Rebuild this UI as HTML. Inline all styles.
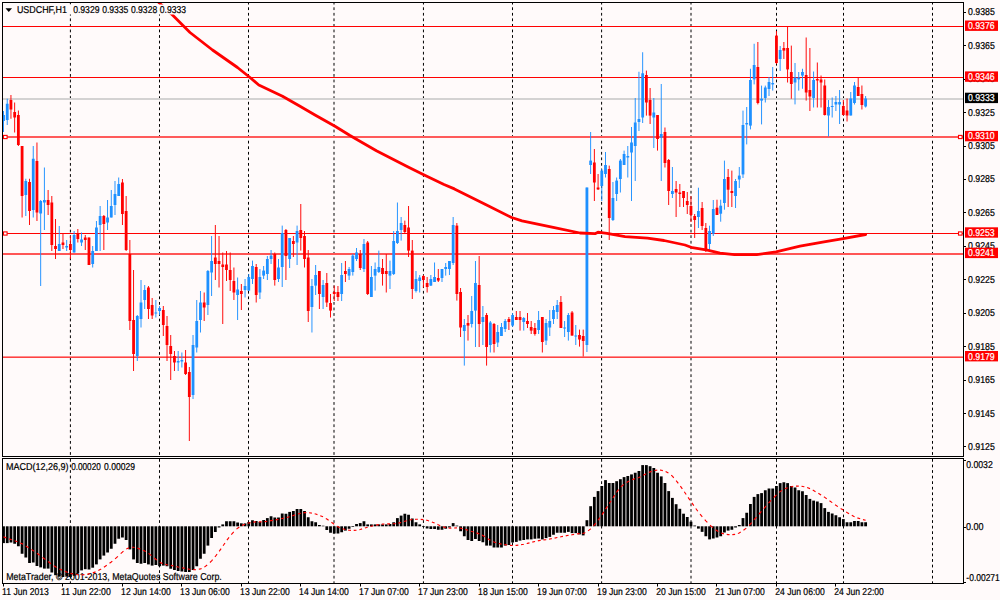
<!DOCTYPE html><html><head><meta charset="utf-8"><style>html,body{margin:0;padding:0;background:#FFFAFA;width:1000px;height:600px;overflow:hidden;}svg{display:block;} text{font-family:"Liberation Sans",sans-serif;font-size:10.00px;fill:#000;stroke:#000;stroke-width:0.22px;text-rendering:geometricPrecision;}</style></head><body><svg width="1000" height="600" viewBox="0 0 1000 600"><rect x="0" y="0" width="1000" height="600" fill="#FFFAFA"/><defs><clipPath id="cm"><rect x="3" y="3" width="960" height="453"/></clipPath><clipPath id="cd"><rect x="3" y="459" width="960" height="124"/></clipPath></defs><g stroke="#000" stroke-width="1" stroke-dasharray="2.78 2.78"><line x1="70.40" y1="3" x2="70.40" y2="456" stroke-dashoffset="1.26"/><line x1="70.40" y1="459" x2="70.40" y2="583" /><line x1="159.50" y1="3" x2="159.50" y2="456" stroke-dashoffset="1.26"/><line x1="159.50" y1="459" x2="159.50" y2="583" /><line x1="248.50" y1="3" x2="248.50" y2="456" stroke-dashoffset="1.26"/><line x1="248.50" y1="459" x2="248.50" y2="583" /><line x1="334.00" y1="3" x2="334.00" y2="456" stroke-dashoffset="1.26"/><line x1="334.00" y1="459" x2="334.00" y2="583" /><line x1="423.45" y1="3" x2="423.45" y2="456" stroke-dashoffset="1.26"/><line x1="423.45" y1="459" x2="423.45" y2="583" /><line x1="512.50" y1="3" x2="512.50" y2="456" stroke-dashoffset="1.26"/><line x1="512.50" y1="459" x2="512.50" y2="583" /><line x1="601.60" y1="3" x2="601.60" y2="456" stroke-dashoffset="1.26"/><line x1="601.60" y1="459" x2="601.60" y2="583" /><line x1="691.00" y1="3" x2="691.00" y2="456" stroke-dashoffset="1.26"/><line x1="691.00" y1="459" x2="691.00" y2="583" /><line x1="776.50" y1="3" x2="776.50" y2="456" stroke-dashoffset="1.26"/><line x1="776.50" y1="459" x2="776.50" y2="583" /><line x1="843.50" y1="3" x2="843.50" y2="456" stroke-dashoffset="1.26"/><line x1="843.50" y1="459" x2="843.50" y2="583" /><line x1="932.50" y1="3" x2="932.50" y2="456" stroke-dashoffset="1.26"/><line x1="932.50" y1="459" x2="932.50" y2="583" /></g><g><rect x="3" y="26" width="960" height="1" fill="#FF0000"/><rect x="3" y="77" width="960" height="1" fill="#FF0000"/><rect x="3" y="233" width="960" height="1" fill="#FF0000"/><rect x="3" y="136" width="960" height="2" fill="#FF5A5A"/><rect x="3" y="253" width="960" height="2" fill="#FF5555"/><rect x="3" y="356" width="960" height="1" fill="#FF8C8C"/><rect x="3" y="357" width="960" height="1" fill="#FF4141"/><rect x="3" y="98" width="960" height="2" fill="#D4D2D2"/></g><g clip-path="url(#cm)"><rect x="3.03" y="111.00" width="0.95" height="21.00" fill="#1E90FF"/><rect x="2.11" y="115.00" width="2.8" height="6.00" fill="#1E90FF"/><rect x="6.75" y="98.75" width="0.95" height="26.25" fill="#1E90FF"/><rect x="5.83" y="103.75" width="2.8" height="16.25" fill="#1E90FF"/><rect x="10.47" y="95.00" width="0.95" height="23.75" fill="#FF0000"/><rect x="9.54" y="100.00" width="2.8" height="9.50" fill="#FF0000"/><rect x="14.18" y="102.50" width="0.95" height="30.00" fill="#FF0000"/><rect x="13.26" y="112.00" width="2.8" height="5.50" fill="#FF0000"/><rect x="17.90" y="110.50" width="0.95" height="35.50" fill="#FF0000"/><rect x="16.97" y="115.00" width="2.8" height="30.00" fill="#FF0000"/><rect x="21.62" y="146.00" width="0.95" height="71.50" fill="#FF0000"/><rect x="20.69" y="146.00" width="2.8" height="50.00" fill="#FF0000"/><rect x="25.33" y="178.75" width="0.95" height="37.25" fill="#1E90FF"/><rect x="24.41" y="181.00" width="2.8" height="14.00" fill="#1E90FF"/><rect x="29.05" y="178.75" width="0.95" height="46.25" fill="#FF0000"/><rect x="28.12" y="182.00" width="2.8" height="29.00" fill="#FF0000"/><rect x="32.76" y="146.00" width="0.95" height="71.50" fill="#1E90FF"/><rect x="31.84" y="158.75" width="2.8" height="51.25" fill="#1E90FF"/><rect x="36.48" y="142.50" width="0.95" height="78.50" fill="#FF0000"/><rect x="35.55" y="161.00" width="2.8" height="51.50" fill="#FF0000"/><rect x="40.20" y="200.00" width="0.95" height="86.00" fill="#1E90FF"/><rect x="39.27" y="201.00" width="2.8" height="12.50" fill="#1E90FF"/><rect x="43.91" y="167.50" width="0.95" height="62.50" fill="#1E90FF"/><rect x="42.99" y="200.00" width="2.8" height="2.50" fill="#1E90FF"/><rect x="47.63" y="190.00" width="0.95" height="25.00" fill="#FF0000"/><rect x="46.70" y="200.00" width="2.8" height="5.00" fill="#FF0000"/><rect x="51.34" y="196.00" width="0.95" height="55.00" fill="#FF0000"/><rect x="50.42" y="202.50" width="2.8" height="42.50" fill="#FF0000"/><rect x="55.06" y="219.00" width="0.95" height="40.00" fill="#FF0000"/><rect x="54.13" y="246.00" width="2.8" height="3.00" fill="#FF0000"/><rect x="58.77" y="226.00" width="0.95" height="25.00" fill="#1E90FF"/><rect x="57.85" y="244.00" width="2.8" height="7.00" fill="#1E90FF"/><rect x="62.49" y="234.00" width="0.95" height="15.00" fill="#FF0000"/><rect x="61.57" y="242.50" width="2.8" height="2.50" fill="#FF0000"/><rect x="66.21" y="240.00" width="0.95" height="11.00" fill="#1E90FF"/><rect x="65.28" y="246.00" width="2.8" height="1.50" fill="#1E90FF"/><rect x="69.92" y="236.00" width="0.95" height="23.00" fill="#FF0000"/><rect x="69.00" y="244.00" width="2.8" height="6.00" fill="#FF0000"/><rect x="73.64" y="231.00" width="0.95" height="21.50" fill="#1E90FF"/><rect x="72.71" y="235.00" width="2.8" height="17.50" fill="#1E90FF"/><rect x="77.36" y="229.00" width="0.95" height="13.50" fill="#FF0000"/><rect x="76.43" y="234.00" width="2.8" height="5.00" fill="#FF0000"/><rect x="81.07" y="232.50" width="0.95" height="13.50" fill="#1E90FF"/><rect x="80.15" y="239.50" width="2.8" height="3.00" fill="#1E90FF"/><rect x="84.79" y="235.00" width="0.95" height="15.00" fill="#FF0000"/><rect x="83.86" y="237.50" width="2.8" height="2.50" fill="#FF0000"/><rect x="88.50" y="237.50" width="0.95" height="27.50" fill="#FF0000"/><rect x="87.58" y="237.50" width="2.8" height="27.50" fill="#FF0000"/><rect x="92.22" y="246.00" width="0.95" height="21.50" fill="#1E90FF"/><rect x="91.29" y="251.00" width="2.8" height="13.00" fill="#1E90FF"/><rect x="95.94" y="221.00" width="0.95" height="30.00" fill="#1E90FF"/><rect x="95.01" y="227.50" width="2.8" height="23.50" fill="#1E90FF"/><rect x="99.65" y="206.00" width="0.95" height="45.00" fill="#1E90FF"/><rect x="98.73" y="216.00" width="2.8" height="9.00" fill="#1E90FF"/><rect x="103.37" y="215.00" width="0.95" height="35.00" fill="#FF0000"/><rect x="102.44" y="216.00" width="2.8" height="8.00" fill="#FF0000"/><rect x="107.08" y="200.00" width="0.95" height="30.00" fill="#1E90FF"/><rect x="106.16" y="217.50" width="2.8" height="5.00" fill="#1E90FF"/><rect x="110.80" y="190.00" width="0.95" height="27.50" fill="#1E90FF"/><rect x="109.87" y="206.00" width="2.8" height="11.50" fill="#1E90FF"/><rect x="114.52" y="181.00" width="0.95" height="34.00" fill="#1E90FF"/><rect x="113.59" y="194.00" width="2.8" height="11.00" fill="#1E90FF"/><rect x="118.23" y="177.50" width="0.95" height="18.50" fill="#1E90FF"/><rect x="117.31" y="184.00" width="2.8" height="12.00" fill="#1E90FF"/><rect x="121.95" y="179.00" width="0.95" height="46.00" fill="#FF0000"/><rect x="121.02" y="182.50" width="2.8" height="31.50" fill="#FF0000"/><rect x="125.66" y="196.00" width="0.95" height="55.00" fill="#FF0000"/><rect x="124.74" y="211.00" width="2.8" height="39.00" fill="#FF0000"/><rect x="129.38" y="240.00" width="0.95" height="90.00" fill="#FF0000"/><rect x="128.45" y="254.00" width="2.8" height="67.00" fill="#FF0000"/><rect x="133.09" y="270.00" width="0.95" height="101.00" fill="#FF0000"/><rect x="132.17" y="320.00" width="2.8" height="34.00" fill="#FF0000"/><rect x="136.81" y="315.00" width="0.95" height="46.00" fill="#1E90FF"/><rect x="135.89" y="316.00" width="2.8" height="40.00" fill="#1E90FF"/><rect x="140.53" y="280.00" width="0.95" height="47.50" fill="#1E90FF"/><rect x="139.60" y="302.50" width="2.8" height="16.50" fill="#1E90FF"/><rect x="144.24" y="285.00" width="0.95" height="24.00" fill="#1E90FF"/><rect x="143.32" y="290.00" width="2.8" height="10.00" fill="#1E90FF"/><rect x="147.96" y="286.00" width="0.95" height="33.00" fill="#FF0000"/><rect x="147.03" y="287.50" width="2.8" height="21.50" fill="#FF0000"/><rect x="151.68" y="298.00" width="0.95" height="21.00" fill="#FF0000"/><rect x="150.75" y="305.00" width="2.8" height="10.50" fill="#FF0000"/><rect x="155.39" y="300.00" width="0.95" height="17.50" fill="#1E90FF"/><rect x="154.47" y="312.50" width="2.8" height="1.00" fill="#1E90FF"/><rect x="159.11" y="306.00" width="0.95" height="9.00" fill="#1E90FF"/><rect x="158.18" y="308.00" width="2.8" height="3.00" fill="#1E90FF"/><rect x="162.82" y="306.00" width="0.95" height="30.00" fill="#FF0000"/><rect x="161.90" y="310.00" width="2.8" height="15.00" fill="#FF0000"/><rect x="166.54" y="316.00" width="0.95" height="45.00" fill="#FF0000"/><rect x="165.61" y="326.00" width="2.8" height="19.00" fill="#FF0000"/><rect x="170.25" y="335.00" width="0.95" height="45.00" fill="#FF0000"/><rect x="169.33" y="346.00" width="2.8" height="8.00" fill="#FF0000"/><rect x="173.97" y="351.00" width="0.95" height="20.00" fill="#FF0000"/><rect x="173.05" y="356.00" width="2.8" height="6.50" fill="#FF0000"/><rect x="177.69" y="351.00" width="0.95" height="20.00" fill="#1E90FF"/><rect x="176.76" y="361.00" width="2.8" height="1.50" fill="#1E90FF"/><rect x="181.40" y="352.50" width="0.95" height="15.00" fill="#1E90FF"/><rect x="180.48" y="360.00" width="2.8" height="1.50" fill="#1E90FF"/><rect x="185.12" y="350.00" width="0.95" height="25.00" fill="#FF0000"/><rect x="184.19" y="362.50" width="2.8" height="11.50" fill="#FF0000"/><rect x="188.84" y="367.00" width="0.95" height="74.00" fill="#FF0000"/><rect x="187.91" y="372.00" width="2.8" height="25.00" fill="#FF0000"/><rect x="192.55" y="335.00" width="0.95" height="64.00" fill="#1E90FF"/><rect x="191.63" y="345.00" width="2.8" height="50.00" fill="#1E90FF"/><rect x="196.27" y="300.00" width="0.95" height="52.50" fill="#1E90FF"/><rect x="195.34" y="321.00" width="2.8" height="26.50" fill="#1E90FF"/><rect x="199.98" y="291.00" width="0.95" height="41.50" fill="#1E90FF"/><rect x="199.06" y="302.50" width="2.8" height="17.50" fill="#1E90FF"/><rect x="203.70" y="292.50" width="0.95" height="28.50" fill="#FF0000"/><rect x="202.77" y="302.50" width="2.8" height="5.00" fill="#FF0000"/><rect x="207.42" y="270.00" width="0.95" height="45.00" fill="#1E90FF"/><rect x="206.49" y="271.00" width="2.8" height="34.00" fill="#1E90FF"/><rect x="211.13" y="236.00" width="0.95" height="60.00" fill="#1E90FF"/><rect x="210.21" y="261.00" width="2.8" height="11.50" fill="#1E90FF"/><rect x="214.85" y="225.00" width="0.95" height="55.00" fill="#FF0000"/><rect x="213.92" y="257.50" width="2.8" height="6.50" fill="#FF0000"/><rect x="218.56" y="236.00" width="0.95" height="51.50" fill="#FF0000"/><rect x="217.64" y="261.00" width="2.8" height="3.00" fill="#FF0000"/><rect x="222.28" y="252.50" width="0.95" height="71.50" fill="#FF0000"/><rect x="221.35" y="264.50" width="2.8" height="2.50" fill="#FF0000"/><rect x="226.00" y="251.00" width="0.95" height="30.00" fill="#FF0000"/><rect x="225.07" y="264.50" width="2.8" height="5.50" fill="#FF0000"/><rect x="229.71" y="252.50" width="0.95" height="38.50" fill="#FF0000"/><rect x="228.79" y="270.00" width="2.8" height="10.00" fill="#FF0000"/><rect x="233.43" y="267.50" width="0.95" height="32.50" fill="#FF0000"/><rect x="232.50" y="281.00" width="2.8" height="11.50" fill="#FF0000"/><rect x="237.14" y="277.50" width="0.95" height="42.50" fill="#1E90FF"/><rect x="236.22" y="289.50" width="2.8" height="5.50" fill="#1E90FF"/><rect x="240.86" y="284.00" width="0.95" height="26.00" fill="#FF0000"/><rect x="239.93" y="291.00" width="2.8" height="3.00" fill="#FF0000"/><rect x="244.58" y="279.00" width="0.95" height="18.50" fill="#1E90FF"/><rect x="243.65" y="286.00" width="2.8" height="4.00" fill="#1E90FF"/><rect x="248.29" y="274.00" width="0.95" height="17.00" fill="#1E90FF"/><rect x="247.37" y="277.00" width="2.8" height="13.60" fill="#1E90FF"/><rect x="252.01" y="260.60" width="0.95" height="23.40" fill="#1E90FF"/><rect x="251.08" y="266.00" width="2.8" height="13.00" fill="#1E90FF"/><rect x="255.72" y="264.00" width="0.95" height="38.50" fill="#FF0000"/><rect x="254.80" y="267.00" width="2.8" height="28.00" fill="#FF0000"/><rect x="259.44" y="269.00" width="0.95" height="30.00" fill="#1E90FF"/><rect x="258.51" y="277.00" width="2.8" height="15.50" fill="#1E90FF"/><rect x="263.15" y="266.00" width="0.95" height="13.00" fill="#1E90FF"/><rect x="262.23" y="270.60" width="2.8" height="5.00" fill="#1E90FF"/><rect x="266.87" y="256.00" width="0.95" height="24.00" fill="#1E90FF"/><rect x="265.95" y="259.00" width="2.8" height="15.00" fill="#1E90FF"/><rect x="270.59" y="250.00" width="0.95" height="14.00" fill="#1E90FF"/><rect x="269.66" y="255.60" width="2.8" height="3.40" fill="#1E90FF"/><rect x="274.30" y="252.50" width="0.95" height="33.10" fill="#FF0000"/><rect x="273.38" y="254.00" width="2.8" height="26.00" fill="#FF0000"/><rect x="278.02" y="259.00" width="0.95" height="23.00" fill="#1E90FF"/><rect x="277.09" y="267.50" width="2.8" height="11.50" fill="#1E90FF"/><rect x="281.73" y="225.60" width="0.95" height="61.40" fill="#1E90FF"/><rect x="280.81" y="233.00" width="2.8" height="34.00" fill="#1E90FF"/><rect x="285.45" y="229.00" width="0.95" height="51.00" fill="#FF0000"/><rect x="284.53" y="230.00" width="2.8" height="26.00" fill="#FF0000"/><rect x="289.17" y="238.00" width="0.95" height="30.00" fill="#1E90FF"/><rect x="288.24" y="238.00" width="2.8" height="21.00" fill="#1E90FF"/><rect x="292.88" y="236.00" width="0.95" height="21.00" fill="#FF0000"/><rect x="291.96" y="241.00" width="2.8" height="3.00" fill="#FF0000"/><rect x="296.60" y="225.60" width="0.95" height="39.40" fill="#1E90FF"/><rect x="295.67" y="231.00" width="2.8" height="11.50" fill="#1E90FF"/><rect x="300.31" y="204.00" width="0.95" height="46.60" fill="#FF0000"/><rect x="299.39" y="230.00" width="2.8" height="8.00" fill="#FF0000"/><rect x="304.03" y="231.00" width="0.95" height="36.50" fill="#FF0000"/><rect x="303.11" y="236.00" width="2.8" height="23.00" fill="#FF0000"/><rect x="307.75" y="250.00" width="0.95" height="72.00" fill="#FF0000"/><rect x="306.82" y="257.50" width="2.8" height="53.50" fill="#FF0000"/><rect x="311.46" y="279.00" width="0.95" height="53.50" fill="#1E90FF"/><rect x="310.54" y="286.00" width="2.8" height="21.00" fill="#1E90FF"/><rect x="315.18" y="265.00" width="0.95" height="30.00" fill="#1E90FF"/><rect x="314.25" y="275.00" width="2.8" height="10.60" fill="#1E90FF"/><rect x="318.89" y="271.00" width="0.95" height="38.00" fill="#FF0000"/><rect x="317.97" y="271.00" width="2.8" height="23.00" fill="#FF0000"/><rect x="322.61" y="280.00" width="0.95" height="29.00" fill="#1E90FF"/><rect x="321.69" y="285.00" width="2.8" height="12.00" fill="#1E90FF"/><rect x="326.33" y="273.00" width="0.95" height="34.00" fill="#FF0000"/><rect x="325.40" y="283.00" width="2.8" height="19.50" fill="#FF0000"/><rect x="330.04" y="294.00" width="0.95" height="23.50" fill="#FF0000"/><rect x="329.12" y="303.00" width="2.8" height="7.60" fill="#FF0000"/><rect x="333.76" y="285.60" width="0.95" height="15.40" fill="#FF0000"/><rect x="332.83" y="292.00" width="2.8" height="2.00" fill="#FF0000"/><rect x="337.47" y="286.00" width="0.95" height="15.00" fill="#FF0000"/><rect x="336.55" y="292.00" width="2.8" height="5.00" fill="#FF0000"/><rect x="341.19" y="263.00" width="0.95" height="38.00" fill="#1E90FF"/><rect x="340.27" y="275.00" width="2.8" height="19.00" fill="#1E90FF"/><rect x="344.91" y="261.00" width="0.95" height="21.00" fill="#FF0000"/><rect x="343.98" y="271.00" width="2.8" height="3.00" fill="#FF0000"/><rect x="348.62" y="267.00" width="0.95" height="13.00" fill="#1E90FF"/><rect x="347.70" y="269.00" width="2.8" height="6.60" fill="#1E90FF"/><rect x="352.34" y="254.00" width="0.95" height="21.60" fill="#1E90FF"/><rect x="351.41" y="255.60" width="2.8" height="16.40" fill="#1E90FF"/><rect x="356.06" y="248.00" width="0.95" height="13.00" fill="#1E90FF"/><rect x="355.13" y="252.50" width="2.8" height="6.50" fill="#1E90FF"/><rect x="359.77" y="250.00" width="0.95" height="20.00" fill="#FF0000"/><rect x="358.85" y="254.00" width="2.8" height="14.00" fill="#FF0000"/><rect x="363.49" y="239.00" width="0.95" height="33.00" fill="#1E90FF"/><rect x="362.56" y="244.00" width="2.8" height="25.00" fill="#1E90FF"/><rect x="367.20" y="241.00" width="0.95" height="54.00" fill="#FF0000"/><rect x="366.28" y="242.50" width="2.8" height="51.50" fill="#FF0000"/><rect x="370.92" y="266.00" width="0.95" height="31.00" fill="#1E90FF"/><rect x="369.99" y="277.00" width="2.8" height="20.00" fill="#1E90FF"/><rect x="374.63" y="262.50" width="0.95" height="28.10" fill="#1E90FF"/><rect x="373.71" y="269.00" width="2.8" height="6.60" fill="#1E90FF"/><rect x="378.35" y="250.60" width="0.95" height="22.40" fill="#1E90FF"/><rect x="377.43" y="267.00" width="2.8" height="5.00" fill="#1E90FF"/><rect x="382.07" y="259.00" width="0.95" height="26.60" fill="#FF0000"/><rect x="381.14" y="268.00" width="2.8" height="6.00" fill="#FF0000"/><rect x="385.78" y="254.00" width="0.95" height="38.50" fill="#FF0000"/><rect x="384.86" y="271.00" width="2.8" height="3.00" fill="#FF0000"/><rect x="389.50" y="260.60" width="0.95" height="28.40" fill="#1E90FF"/><rect x="388.57" y="271.00" width="2.8" height="4.60" fill="#1E90FF"/><rect x="393.21" y="231.00" width="0.95" height="44.00" fill="#1E90FF"/><rect x="392.29" y="241.00" width="2.8" height="33.00" fill="#1E90FF"/><rect x="396.93" y="202.50" width="0.95" height="41.50" fill="#1E90FF"/><rect x="396.01" y="231.00" width="2.8" height="12.00" fill="#1E90FF"/><rect x="400.65" y="217.00" width="0.95" height="23.60" fill="#1E90FF"/><rect x="399.72" y="223.00" width="2.8" height="7.00" fill="#1E90FF"/><rect x="404.36" y="220.60" width="0.95" height="13.40" fill="#FF0000"/><rect x="403.44" y="225.00" width="2.8" height="7.00" fill="#FF0000"/><rect x="408.08" y="206.00" width="0.95" height="51.00" fill="#FF0000"/><rect x="407.15" y="227.50" width="2.8" height="23.10" fill="#FF0000"/><rect x="411.80" y="240.00" width="0.95" height="59.00" fill="#FF0000"/><rect x="410.87" y="250.60" width="2.8" height="38.40" fill="#FF0000"/><rect x="415.51" y="271.00" width="0.95" height="21.50" fill="#1E90FF"/><rect x="414.59" y="279.00" width="2.8" height="12.00" fill="#1E90FF"/><rect x="419.23" y="275.00" width="0.95" height="17.50" fill="#1E90FF"/><rect x="418.30" y="277.50" width="2.8" height="3.50" fill="#1E90FF"/><rect x="422.94" y="275.00" width="0.95" height="12.50" fill="#FF0000"/><rect x="422.02" y="276.00" width="2.8" height="4.00" fill="#FF0000"/><rect x="426.66" y="277.00" width="0.95" height="15.50" fill="#FF0000"/><rect x="425.73" y="283.00" width="2.8" height="4.00" fill="#FF0000"/><rect x="430.38" y="275.00" width="0.95" height="11.00" fill="#1E90FF"/><rect x="429.45" y="279.00" width="2.8" height="6.60" fill="#1E90FF"/><rect x="434.09" y="262.50" width="0.95" height="19.50" fill="#1E90FF"/><rect x="433.17" y="277.00" width="2.8" height="5.00" fill="#1E90FF"/><rect x="437.81" y="269.00" width="0.95" height="13.00" fill="#FF0000"/><rect x="436.88" y="278.00" width="2.8" height="2.60" fill="#FF0000"/><rect x="441.52" y="269.00" width="0.95" height="13.00" fill="#1E90FF"/><rect x="440.60" y="269.00" width="2.8" height="9.00" fill="#1E90FF"/><rect x="445.24" y="263.00" width="0.95" height="12.60" fill="#1E90FF"/><rect x="444.31" y="267.00" width="2.8" height="2.00" fill="#1E90FF"/><rect x="448.95" y="261.00" width="0.95" height="14.00" fill="#1E90FF"/><rect x="448.03" y="261.00" width="2.8" height="8.00" fill="#1E90FF"/><rect x="452.67" y="217.00" width="0.95" height="48.00" fill="#1E90FF"/><rect x="451.75" y="225.00" width="2.8" height="38.00" fill="#1E90FF"/><rect x="456.39" y="223.00" width="0.95" height="77.60" fill="#FF0000"/><rect x="455.46" y="225.60" width="2.8" height="68.40" fill="#FF0000"/><rect x="460.10" y="288.00" width="0.95" height="49.00" fill="#FF0000"/><rect x="459.18" y="292.00" width="2.8" height="35.50" fill="#FF0000"/><rect x="463.82" y="319.00" width="0.95" height="46.60" fill="#1E90FF"/><rect x="462.89" y="325.00" width="2.8" height="6.00" fill="#1E90FF"/><rect x="467.53" y="315.00" width="0.95" height="25.60" fill="#FF0000"/><rect x="466.61" y="323.00" width="2.8" height="2.60" fill="#FF0000"/><rect x="471.25" y="296.00" width="0.95" height="31.50" fill="#1E90FF"/><rect x="470.33" y="311.00" width="2.8" height="13.00" fill="#1E90FF"/><rect x="474.97" y="261.00" width="0.95" height="86.00" fill="#1E90FF"/><rect x="474.04" y="283.00" width="2.8" height="27.60" fill="#1E90FF"/><rect x="478.68" y="256.00" width="0.95" height="91.00" fill="#FF0000"/><rect x="477.76" y="285.00" width="2.8" height="39.00" fill="#FF0000"/><rect x="482.40" y="306.00" width="0.95" height="39.00" fill="#1E90FF"/><rect x="481.47" y="317.00" width="2.8" height="5.00" fill="#1E90FF"/><rect x="486.12" y="313.00" width="0.95" height="52.60" fill="#FF0000"/><rect x="485.19" y="315.00" width="2.8" height="32.00" fill="#FF0000"/><rect x="489.83" y="321.00" width="0.95" height="31.50" fill="#1E90FF"/><rect x="488.91" y="322.50" width="2.8" height="22.50" fill="#1E90FF"/><rect x="493.55" y="323.00" width="0.95" height="29.50" fill="#FF0000"/><rect x="492.62" y="324.00" width="2.8" height="20.00" fill="#FF0000"/><rect x="497.26" y="325.00" width="0.95" height="22.00" fill="#1E90FF"/><rect x="496.34" y="332.00" width="2.8" height="10.50" fill="#1E90FF"/><rect x="500.98" y="323.00" width="0.95" height="13.00" fill="#1E90FF"/><rect x="500.05" y="327.00" width="2.8" height="9.00" fill="#1E90FF"/><rect x="504.69" y="319.00" width="0.95" height="13.00" fill="#1E90FF"/><rect x="503.77" y="321.00" width="2.8" height="8.00" fill="#1E90FF"/><rect x="508.41" y="317.00" width="0.95" height="13.00" fill="#FF0000"/><rect x="507.49" y="319.00" width="2.8" height="3.00" fill="#FF0000"/><rect x="512.13" y="313.00" width="0.95" height="14.00" fill="#1E90FF"/><rect x="511.20" y="315.00" width="2.8" height="10.60" fill="#1E90FF"/><rect x="515.84" y="311.00" width="0.95" height="9.00" fill="#FF0000"/><rect x="514.92" y="317.00" width="2.8" height="3.00" fill="#FF0000"/><rect x="519.56" y="311.00" width="0.95" height="19.60" fill="#FF0000"/><rect x="518.63" y="317.00" width="2.8" height="3.00" fill="#FF0000"/><rect x="523.27" y="317.00" width="0.95" height="13.60" fill="#1E90FF"/><rect x="522.35" y="318.00" width="2.8" height="4.00" fill="#1E90FF"/><rect x="526.99" y="313.00" width="0.95" height="15.00" fill="#FF0000"/><rect x="526.07" y="321.00" width="2.8" height="3.00" fill="#FF0000"/><rect x="530.71" y="321.00" width="0.95" height="13.00" fill="#FF0000"/><rect x="529.78" y="327.00" width="2.8" height="3.60" fill="#FF0000"/><rect x="534.42" y="323.00" width="0.95" height="12.60" fill="#FF0000"/><rect x="533.50" y="328.00" width="2.8" height="6.00" fill="#FF0000"/><rect x="538.14" y="311.00" width="0.95" height="23.00" fill="#1E90FF"/><rect x="537.21" y="320.00" width="2.8" height="10.00" fill="#1E90FF"/><rect x="541.86" y="317.00" width="0.95" height="35.50" fill="#FF0000"/><rect x="540.93" y="317.00" width="2.8" height="25.00" fill="#FF0000"/><rect x="545.57" y="319.00" width="0.95" height="26.00" fill="#1E90FF"/><rect x="544.65" y="323.00" width="2.8" height="17.60" fill="#1E90FF"/><rect x="549.29" y="310.00" width="0.95" height="26.00" fill="#1E90FF"/><rect x="548.36" y="321.00" width="2.8" height="6.50" fill="#1E90FF"/><rect x="553.00" y="306.00" width="0.95" height="18.00" fill="#1E90FF"/><rect x="552.08" y="310.00" width="2.8" height="9.00" fill="#1E90FF"/><rect x="556.72" y="300.00" width="0.95" height="19.00" fill="#1E90FF"/><rect x="555.79" y="305.00" width="2.8" height="7.00" fill="#1E90FF"/><rect x="560.43" y="296.00" width="0.95" height="32.00" fill="#FF0000"/><rect x="559.51" y="302.00" width="2.8" height="26.00" fill="#FF0000"/><rect x="564.15" y="321.00" width="0.95" height="16.00" fill="#1E90FF"/><rect x="563.23" y="327.50" width="2.8" height="1.00" fill="#1E90FF"/><rect x="567.87" y="313.00" width="0.95" height="27.60" fill="#1E90FF"/><rect x="566.94" y="315.00" width="2.8" height="17.00" fill="#1E90FF"/><rect x="571.58" y="311.00" width="0.95" height="24.60" fill="#FF0000"/><rect x="570.66" y="312.50" width="2.8" height="23.10" fill="#FF0000"/><rect x="575.30" y="325.00" width="0.95" height="20.00" fill="#1E90FF"/><rect x="574.37" y="335.50" width="2.8" height="1.00" fill="#1E90FF"/><rect x="579.01" y="329.60" width="0.95" height="17.00" fill="#FF0000"/><rect x="578.09" y="335.00" width="2.8" height="4.50" fill="#FF0000"/><rect x="582.73" y="329.60" width="0.95" height="26.90" fill="#FF0000"/><rect x="581.81" y="336.00" width="2.8" height="5.00" fill="#FF0000"/><rect x="586.45" y="187.50" width="0.95" height="164.50" fill="#1E90FF"/><rect x="585.52" y="187.50" width="2.8" height="157.50" fill="#1E90FF"/><rect x="590.16" y="132.00" width="0.95" height="42.00" fill="#1E90FF"/><rect x="589.24" y="160.60" width="2.8" height="4.40" fill="#1E90FF"/><rect x="593.88" y="149.00" width="0.95" height="52.00" fill="#FF0000"/><rect x="592.95" y="162.50" width="2.8" height="20.00" fill="#FF0000"/><rect x="597.60" y="174.00" width="0.95" height="16.00" fill="#FF0000"/><rect x="596.67" y="187.50" width="2.8" height="1.90" fill="#FF0000"/><rect x="601.31" y="169.00" width="0.95" height="32.00" fill="#1E90FF"/><rect x="600.39" y="170.60" width="2.8" height="15.40" fill="#1E90FF"/><rect x="605.03" y="152.00" width="0.95" height="25.50" fill="#1E90FF"/><rect x="604.10" y="165.00" width="2.8" height="9.00" fill="#1E90FF"/><rect x="608.74" y="165.60" width="0.95" height="74.40" fill="#FF0000"/><rect x="607.82" y="169.00" width="2.8" height="49.00" fill="#FF0000"/><rect x="612.46" y="182.00" width="0.95" height="39.00" fill="#1E90FF"/><rect x="611.53" y="198.00" width="2.8" height="22.00" fill="#1E90FF"/><rect x="616.17" y="177.50" width="0.95" height="23.50" fill="#1E90FF"/><rect x="615.25" y="180.60" width="2.8" height="13.40" fill="#1E90FF"/><rect x="619.89" y="159.00" width="0.95" height="33.50" fill="#1E90FF"/><rect x="618.97" y="160.60" width="2.8" height="18.40" fill="#1E90FF"/><rect x="623.61" y="150.60" width="0.95" height="14.40" fill="#1E90FF"/><rect x="622.68" y="154.00" width="2.8" height="11.00" fill="#1E90FF"/><rect x="627.32" y="146.00" width="0.95" height="31.50" fill="#1E90FF"/><rect x="626.40" y="156.00" width="2.8" height="1.50" fill="#1E90FF"/><rect x="631.04" y="127.00" width="0.95" height="74.00" fill="#1E90FF"/><rect x="630.11" y="142.50" width="2.8" height="10.00" fill="#1E90FF"/><rect x="634.75" y="98.00" width="0.95" height="83.00" fill="#1E90FF"/><rect x="633.83" y="122.50" width="2.8" height="23.50" fill="#1E90FF"/><rect x="638.47" y="71.75" width="0.95" height="59.25" fill="#1E90FF"/><rect x="637.55" y="119.00" width="2.8" height="3.00" fill="#1E90FF"/><rect x="642.19" y="52.25" width="0.95" height="70.75" fill="#1E90FF"/><rect x="641.26" y="73.30" width="2.8" height="44.20" fill="#1E90FF"/><rect x="645.90" y="70.60" width="0.95" height="45.00" fill="#FF0000"/><rect x="644.98" y="75.00" width="2.8" height="27.50" fill="#FF0000"/><rect x="649.62" y="88.00" width="0.95" height="36.00" fill="#FF0000"/><rect x="648.69" y="100.00" width="2.8" height="15.60" fill="#FF0000"/><rect x="653.34" y="98.00" width="0.95" height="50.00" fill="#1E90FF"/><rect x="652.41" y="112.50" width="2.8" height="5.00" fill="#1E90FF"/><rect x="657.05" y="115.00" width="0.95" height="35.60" fill="#FF0000"/><rect x="656.13" y="115.00" width="2.8" height="24.00" fill="#FF0000"/><rect x="660.77" y="84.00" width="0.95" height="97.00" fill="#1E90FF"/><rect x="659.84" y="134.00" width="2.8" height="3.50" fill="#1E90FF"/><rect x="664.48" y="127.50" width="0.95" height="40.00" fill="#FF0000"/><rect x="663.56" y="132.00" width="2.8" height="31.00" fill="#FF0000"/><rect x="668.20" y="159.00" width="0.95" height="46.00" fill="#FF0000"/><rect x="667.27" y="160.00" width="2.8" height="31.00" fill="#FF0000"/><rect x="671.91" y="167.00" width="0.95" height="31.00" fill="#1E90FF"/><rect x="670.99" y="191.00" width="2.8" height="3.00" fill="#1E90FF"/><rect x="675.63" y="181.00" width="0.95" height="36.00" fill="#FF0000"/><rect x="674.71" y="189.00" width="2.8" height="3.50" fill="#FF0000"/><rect x="679.35" y="184.00" width="0.95" height="23.00" fill="#FF0000"/><rect x="678.42" y="192.50" width="2.8" height="1.50" fill="#FF0000"/><rect x="683.06" y="191.00" width="0.95" height="16.00" fill="#FF0000"/><rect x="682.14" y="191.00" width="2.8" height="7.00" fill="#FF0000"/><rect x="686.78" y="192.00" width="0.95" height="22.00" fill="#FF0000"/><rect x="685.85" y="201.00" width="2.8" height="4.00" fill="#FF0000"/><rect x="690.50" y="196.00" width="0.95" height="26.00" fill="#FF0000"/><rect x="689.57" y="206.00" width="2.8" height="9.00" fill="#FF0000"/><rect x="694.21" y="214.00" width="0.95" height="24.00" fill="#FF0000"/><rect x="693.29" y="216.00" width="2.8" height="4.00" fill="#FF0000"/><rect x="697.93" y="187.70" width="0.95" height="40.30" fill="#1E90FF"/><rect x="697.00" y="211.00" width="2.8" height="6.00" fill="#1E90FF"/><rect x="701.64" y="202.00" width="0.95" height="28.00" fill="#FF0000"/><rect x="700.72" y="208.00" width="2.8" height="18.00" fill="#FF0000"/><rect x="705.36" y="223.00" width="0.95" height="29.00" fill="#FF0000"/><rect x="704.43" y="228.00" width="2.8" height="23.00" fill="#FF0000"/><rect x="709.08" y="225.70" width="0.95" height="25.30" fill="#1E90FF"/><rect x="708.15" y="231.00" width="2.8" height="13.00" fill="#1E90FF"/><rect x="712.79" y="200.00" width="0.95" height="36.00" fill="#1E90FF"/><rect x="711.87" y="209.00" width="2.8" height="24.70" fill="#1E90FF"/><rect x="716.51" y="199.70" width="0.95" height="15.30" fill="#FF0000"/><rect x="715.58" y="207.70" width="2.8" height="7.30" fill="#FF0000"/><rect x="720.22" y="199.70" width="0.95" height="22.00" fill="#1E90FF"/><rect x="719.30" y="205.70" width="2.8" height="8.00" fill="#1E90FF"/><rect x="723.94" y="160.60" width="0.95" height="49.10" fill="#1E90FF"/><rect x="723.01" y="179.00" width="2.8" height="24.00" fill="#1E90FF"/><rect x="727.65" y="169.00" width="0.95" height="38.00" fill="#FF0000"/><rect x="726.73" y="177.00" width="2.8" height="12.70" fill="#FF0000"/><rect x="731.37" y="170.60" width="0.95" height="36.40" fill="#FF0000"/><rect x="730.45" y="191.00" width="2.8" height="2.00" fill="#FF0000"/><rect x="735.09" y="179.00" width="0.95" height="29.00" fill="#1E90FF"/><rect x="734.16" y="181.00" width="2.8" height="15.00" fill="#1E90FF"/><rect x="738.80" y="167.00" width="0.95" height="21.00" fill="#1E90FF"/><rect x="737.88" y="175.60" width="2.8" height="3.90" fill="#1E90FF"/><rect x="742.52" y="110.60" width="0.95" height="67.40" fill="#1E90FF"/><rect x="741.59" y="125.00" width="2.8" height="49.40" fill="#1E90FF"/><rect x="746.24" y="107.00" width="0.95" height="37.40" fill="#1E90FF"/><rect x="745.31" y="123.00" width="2.8" height="1.40" fill="#1E90FF"/><rect x="749.95" y="68.75" width="0.95" height="60.65" fill="#1E90FF"/><rect x="749.03" y="80.00" width="2.8" height="45.60" fill="#1E90FF"/><rect x="753.67" y="43.75" width="0.95" height="40.65" fill="#1E90FF"/><rect x="752.74" y="65.00" width="2.8" height="14.40" fill="#1E90FF"/><rect x="757.38" y="42.00" width="0.95" height="62.40" fill="#FF0000"/><rect x="756.46" y="67.00" width="2.8" height="36.00" fill="#FF0000"/><rect x="761.10" y="85.60" width="0.95" height="38.80" fill="#1E90FF"/><rect x="760.17" y="98.75" width="2.8" height="1.85" fill="#1E90FF"/><rect x="764.82" y="85.60" width="0.95" height="16.90" fill="#1E90FF"/><rect x="763.89" y="87.50" width="2.8" height="10.50" fill="#1E90FF"/><rect x="768.53" y="77.00" width="0.95" height="19.00" fill="#1E90FF"/><rect x="767.61" y="82.00" width="2.8" height="7.00" fill="#1E90FF"/><rect x="772.25" y="67.00" width="0.95" height="23.60" fill="#1E90FF"/><rect x="771.32" y="83.00" width="2.8" height="1.40" fill="#1E90FF"/><rect x="775.96" y="31.00" width="0.95" height="33.00" fill="#FF0000"/><rect x="775.04" y="35.60" width="2.8" height="27.40" fill="#FF0000"/><rect x="779.68" y="46.00" width="0.95" height="25.00" fill="#1E90FF"/><rect x="778.75" y="50.00" width="2.8" height="9.00" fill="#1E90FF"/><rect x="783.39" y="42.00" width="0.95" height="17.00" fill="#FF0000"/><rect x="782.47" y="48.00" width="2.8" height="2.60" fill="#FF0000"/><rect x="787.11" y="26.00" width="0.95" height="56.50" fill="#FF0000"/><rect x="786.19" y="48.00" width="2.8" height="21.40" fill="#FF0000"/><rect x="790.83" y="45.60" width="0.95" height="53.15" fill="#FF0000"/><rect x="789.90" y="72.00" width="2.8" height="12.00" fill="#FF0000"/><rect x="794.54" y="63.00" width="0.95" height="41.40" fill="#1E90FF"/><rect x="793.62" y="77.50" width="2.8" height="5.00" fill="#1E90FF"/><rect x="798.26" y="72.00" width="0.95" height="18.60" fill="#1E90FF"/><rect x="797.33" y="77.50" width="2.8" height="1.90" fill="#1E90FF"/><rect x="801.98" y="68.75" width="0.95" height="20.00" fill="#1E90FF"/><rect x="801.05" y="72.00" width="2.8" height="3.60" fill="#1E90FF"/><rect x="805.69" y="37.50" width="0.95" height="63.10" fill="#FF0000"/><rect x="804.77" y="75.00" width="2.8" height="17.50" fill="#FF0000"/><rect x="809.41" y="48.00" width="0.95" height="63.00" fill="#FF0000"/><rect x="808.48" y="90.00" width="2.8" height="6.50" fill="#FF0000"/><rect x="813.12" y="71.50" width="0.95" height="36.00" fill="#1E90FF"/><rect x="812.20" y="80.00" width="2.8" height="18.00" fill="#1E90FF"/><rect x="816.84" y="62.50" width="0.95" height="45.00" fill="#FF0000"/><rect x="815.91" y="79.00" width="2.8" height="1.50" fill="#FF0000"/><rect x="820.56" y="75.50" width="0.95" height="32.00" fill="#FF0000"/><rect x="819.63" y="79.50" width="2.8" height="3.00" fill="#FF0000"/><rect x="824.27" y="79.50" width="0.95" height="36.00" fill="#FF0000"/><rect x="823.35" y="85.50" width="2.8" height="29.50" fill="#FF0000"/><rect x="827.99" y="100.00" width="0.95" height="36.50" fill="#1E90FF"/><rect x="827.06" y="107.00" width="2.8" height="8.50" fill="#1E90FF"/><rect x="831.70" y="97.50" width="0.95" height="20.00" fill="#1E90FF"/><rect x="830.78" y="106.00" width="2.8" height="1.00" fill="#1E90FF"/><rect x="835.42" y="96.00" width="0.95" height="15.00" fill="#1E90FF"/><rect x="834.49" y="102.00" width="2.8" height="2.50" fill="#1E90FF"/><rect x="839.13" y="90.00" width="0.95" height="34.00" fill="#1E90FF"/><rect x="838.21" y="102.00" width="2.8" height="2.50" fill="#1E90FF"/><rect x="842.85" y="100.00" width="0.95" height="15.50" fill="#FF0000"/><rect x="841.93" y="106.00" width="2.8" height="9.00" fill="#FF0000"/><rect x="846.57" y="98.50" width="0.95" height="23.00" fill="#FF0000"/><rect x="845.64" y="110.50" width="2.8" height="5.00" fill="#FF0000"/><rect x="850.28" y="92.00" width="0.95" height="23.50" fill="#1E90FF"/><rect x="849.36" y="98.50" width="2.8" height="17.00" fill="#1E90FF"/><rect x="854.00" y="82.00" width="0.95" height="22.50" fill="#1E90FF"/><rect x="853.07" y="85.50" width="2.8" height="17.50" fill="#1E90FF"/><rect x="857.72" y="77.50" width="0.95" height="18.50" fill="#FF0000"/><rect x="856.79" y="87.00" width="2.8" height="9.00" fill="#FF0000"/><rect x="861.43" y="85.50" width="0.95" height="24.00" fill="#FF0000"/><rect x="860.51" y="94.00" width="2.8" height="11.00" fill="#FF0000"/><rect x="865.15" y="96.00" width="0.95" height="11.50" fill="#1E90FF"/><rect x="864.22" y="98.50" width="2.8" height="8.00" fill="#1E90FF"/></g><g clip-path="url(#cm)"><polyline points="158.8,2.5 172.5,15.0 190.0,32.5 212.5,50.0 237.5,67.5 250.0,77.5 258.8,85.0 282.5,96.2 300.0,106.2 315.0,115.0 335.0,126.2 350.0,135.5 355.6,138.7 376.4,150.7 407.6,166.8 423.2,174.6 444.0,184.5 454.4,188.9 485.6,204.5 511.6,217.5 522.0,220.9 553.2,227.4 580.0,233.0 595.0,233.7 598.0,232.2 607.0,233.3 625.0,236.7 647.5,238.2 664.0,240.5 685.0,245.0 692.4,247.7 707.4,250.2 720.0,253.1 734.4,254.7 756.8,254.7 776.0,251.8 800.0,246.2 824.0,241.9 843.2,238.7 865.6,234.5" fill="none" stroke="#FF0000" stroke-width="2.8" stroke-linejoin="round" stroke-linecap="round"/></g><rect x="3.50" y="135.40" width="3.6" height="3.2" fill="#fff" stroke="#FF0000" stroke-width="1.1"/><rect x="958.50" y="135.40" width="3.6" height="3.2" fill="#fff" stroke="#FF0000" stroke-width="1.1"/><rect x="3.50" y="231.90" width="3.6" height="3.2" fill="#fff" stroke="#FF0000" stroke-width="1.1"/><rect x="958.50" y="231.90" width="3.6" height="3.2" fill="#fff" stroke="#FF0000" stroke-width="1.1"/><text x="6.19" y="580.00" textLength="215.58" lengthAdjust="spacingAndGlyphs">MetaTrader, © 2001-2013, MetaQuotes Software Corp.</text><g clip-path="url(#cd)" fill="#000"><rect x="2.11" y="526.30" width="2.8" height="16.80"/><rect x="5.83" y="526.30" width="2.8" height="16.80"/><rect x="9.54" y="526.30" width="2.8" height="16.20"/><rect x="13.26" y="526.30" width="2.8" height="17.45"/><rect x="16.97" y="526.30" width="2.8" height="19.95"/><rect x="20.69" y="526.30" width="2.8" height="27.45"/><rect x="24.41" y="526.30" width="2.8" height="31.20"/><rect x="28.12" y="526.30" width="2.8" height="36.70"/><rect x="31.84" y="526.30" width="2.8" height="36.20"/><rect x="35.55" y="526.30" width="2.8" height="39.70"/><rect x="39.27" y="526.30" width="2.8" height="41.10"/><rect x="42.99" y="526.30" width="2.8" height="42.30"/><rect x="46.70" y="526.30" width="2.8" height="42.30"/><rect x="50.42" y="526.30" width="2.8" height="46.20"/><rect x="54.13" y="526.30" width="2.8" height="48.90"/><rect x="57.85" y="526.30" width="2.8" height="50.40"/><rect x="61.57" y="526.30" width="2.8" height="50.70"/><rect x="65.28" y="526.30" width="2.8" height="50.40"/><rect x="69.00" y="526.30" width="2.8" height="50.70"/><rect x="72.71" y="526.30" width="2.8" height="49.50"/><rect x="76.43" y="526.30" width="2.8" height="46.80"/><rect x="80.15" y="526.30" width="2.8" height="44.10"/><rect x="83.86" y="526.30" width="2.8" height="42.90"/><rect x="87.58" y="526.30" width="2.8" height="43.20"/><rect x="91.29" y="526.30" width="2.8" height="41.40"/><rect x="95.01" y="526.30" width="2.8" height="38.10"/><rect x="98.73" y="526.30" width="2.8" height="33.10"/><rect x="102.44" y="526.30" width="2.8" height="29.30"/><rect x="106.16" y="526.30" width="2.8" height="26.20"/><rect x="109.87" y="526.30" width="2.8" height="22.45"/><rect x="113.59" y="526.30" width="2.8" height="17.45"/><rect x="117.31" y="526.30" width="2.8" height="12.45"/><rect x="121.02" y="526.30" width="2.8" height="11.20"/><rect x="124.74" y="526.30" width="2.8" height="13.70"/><rect x="128.45" y="526.30" width="2.8" height="23.10"/><rect x="132.17" y="526.30" width="2.8" height="33.10"/><rect x="135.89" y="526.30" width="2.8" height="36.70"/><rect x="139.60" y="526.30" width="2.8" height="37.45"/><rect x="143.32" y="526.30" width="2.8" height="36.70"/><rect x="147.03" y="526.30" width="2.8" height="38.10"/><rect x="150.75" y="526.30" width="2.8" height="39.30"/><rect x="154.47" y="526.30" width="2.8" height="38.70"/><rect x="158.18" y="526.30" width="2.8" height="39.95"/><rect x="161.90" y="526.30" width="2.8" height="39.30"/><rect x="165.61" y="526.30" width="2.8" height="39.95"/><rect x="169.33" y="526.30" width="2.8" height="42.45"/><rect x="173.05" y="526.30" width="2.8" height="43.70"/><rect x="176.76" y="526.30" width="2.8" height="44.70"/><rect x="180.48" y="526.30" width="2.8" height="45.20"/><rect x="184.19" y="526.30" width="2.8" height="45.70"/><rect x="187.91" y="526.30" width="2.8" height="45.70"/><rect x="191.63" y="526.30" width="2.8" height="43.70"/><rect x="195.34" y="526.30" width="2.8" height="39.95"/><rect x="199.06" y="526.30" width="2.8" height="32.45"/><rect x="202.77" y="526.30" width="2.8" height="27.45"/><rect x="206.49" y="526.30" width="2.8" height="19.30"/><rect x="210.21" y="526.30" width="2.8" height="11.70"/><rect x="213.92" y="526.30" width="2.8" height="5.70"/><rect x="217.64" y="526.30" width="2.8" height="1.20"/><rect x="221.35" y="524.40" width="2.8" height="1.90"/><rect x="225.07" y="521.25" width="2.8" height="5.05"/><rect x="228.79" y="521.25" width="2.8" height="5.05"/><rect x="232.50" y="521.25" width="2.8" height="5.05"/><rect x="236.22" y="522.50" width="2.8" height="3.80"/><rect x="239.93" y="523.30" width="2.8" height="3.00"/><rect x="243.65" y="523.40" width="2.8" height="2.90"/><rect x="247.37" y="522.00" width="2.8" height="4.30"/><rect x="251.08" y="520.25" width="2.8" height="6.05"/><rect x="254.80" y="521.00" width="2.8" height="5.30"/><rect x="258.51" y="521.90" width="2.8" height="4.40"/><rect x="262.23" y="520.00" width="2.8" height="6.30"/><rect x="265.95" y="518.10" width="2.8" height="8.20"/><rect x="269.66" y="516.25" width="2.8" height="10.05"/><rect x="273.38" y="517.50" width="2.8" height="8.80"/><rect x="277.09" y="517.50" width="2.8" height="8.80"/><rect x="280.81" y="513.50" width="2.8" height="12.80"/><rect x="284.53" y="513.75" width="2.8" height="12.55"/><rect x="288.24" y="511.90" width="2.8" height="14.40"/><rect x="291.96" y="511.00" width="2.8" height="15.30"/><rect x="295.67" y="509.00" width="2.8" height="17.30"/><rect x="299.39" y="509.00" width="2.8" height="17.30"/><rect x="303.11" y="511.00" width="2.8" height="15.30"/><rect x="306.82" y="517.25" width="2.8" height="9.05"/><rect x="310.54" y="521.25" width="2.8" height="5.05"/><rect x="314.25" y="522.25" width="2.8" height="4.05"/><rect x="317.97" y="525.00" width="2.8" height="1.30"/><rect x="321.69" y="525.70" width="2.8" height="0.60"/><rect x="325.40" y="526.30" width="2.8" height="3.70"/><rect x="329.12" y="526.30" width="2.8" height="6.45"/><rect x="332.83" y="526.30" width="2.8" height="7.20"/><rect x="336.55" y="526.30" width="2.8" height="7.20"/><rect x="340.27" y="526.30" width="2.8" height="5.95"/><rect x="343.98" y="526.30" width="2.8" height="4.30"/><rect x="347.70" y="526.30" width="2.8" height="2.45"/><rect x="351.41" y="526.30" width="2.8" height="0.70"/><rect x="355.13" y="524.00" width="2.8" height="2.30"/><rect x="358.85" y="523.10" width="2.8" height="3.20"/><rect x="362.56" y="521.25" width="2.8" height="5.05"/><rect x="366.28" y="524.40" width="2.8" height="1.90"/><rect x="369.99" y="524.40" width="2.8" height="1.90"/><rect x="373.71" y="524.40" width="2.8" height="1.90"/><rect x="377.43" y="524.40" width="2.8" height="1.90"/><rect x="381.14" y="524.40" width="2.8" height="1.90"/><rect x="384.86" y="524.40" width="2.8" height="1.90"/><rect x="388.57" y="524.00" width="2.8" height="2.30"/><rect x="392.29" y="522.25" width="2.8" height="4.05"/><rect x="396.01" y="518.10" width="2.8" height="8.20"/><rect x="399.72" y="515.60" width="2.8" height="10.70"/><rect x="403.44" y="513.75" width="2.8" height="12.55"/><rect x="407.15" y="514.75" width="2.8" height="11.55"/><rect x="410.87" y="518.50" width="2.8" height="7.80"/><rect x="414.59" y="522.25" width="2.8" height="4.05"/><rect x="418.30" y="524.40" width="2.8" height="1.90"/><rect x="422.02" y="526.30" width="2.8" height="0.70"/><rect x="425.73" y="526.30" width="2.8" height="2.20"/><rect x="429.45" y="526.30" width="2.8" height="2.70"/><rect x="433.17" y="526.30" width="2.8" height="2.70"/><rect x="436.88" y="526.30" width="2.8" height="3.45"/><rect x="440.60" y="526.30" width="2.8" height="3.45"/><rect x="444.31" y="526.30" width="2.8" height="2.45"/><rect x="448.03" y="526.30" width="2.8" height="1.20"/><rect x="451.75" y="523.10" width="2.8" height="3.20"/><rect x="455.46" y="525.60" width="2.8" height="0.70"/><rect x="459.18" y="526.30" width="2.8" height="4.95"/><rect x="462.89" y="526.30" width="2.8" height="9.95"/><rect x="466.61" y="526.30" width="2.8" height="13.70"/><rect x="470.33" y="526.30" width="2.8" height="14.70"/><rect x="474.04" y="526.30" width="2.8" height="12.70"/><rect x="477.76" y="526.30" width="2.8" height="14.70"/><rect x="481.47" y="526.30" width="2.8" height="15.95"/><rect x="485.19" y="526.30" width="2.8" height="19.30"/><rect x="488.91" y="526.30" width="2.8" height="19.30"/><rect x="492.62" y="526.30" width="2.8" height="21.20"/><rect x="496.34" y="526.30" width="2.8" height="21.20"/><rect x="500.05" y="526.30" width="2.8" height="21.20"/><rect x="503.77" y="526.30" width="2.8" height="19.30"/><rect x="507.49" y="526.30" width="2.8" height="18.70"/><rect x="511.20" y="526.30" width="2.8" height="16.20"/><rect x="514.92" y="526.30" width="2.8" height="15.60"/><rect x="518.63" y="526.30" width="2.8" height="14.30"/><rect x="522.35" y="526.30" width="2.8" height="13.70"/><rect x="526.07" y="526.30" width="2.8" height="13.10"/><rect x="529.78" y="526.30" width="2.8" height="13.10"/><rect x="533.50" y="526.30" width="2.8" height="12.45"/><rect x="537.21" y="526.30" width="2.8" height="12.20"/><rect x="540.93" y="526.30" width="2.8" height="13.10"/><rect x="544.65" y="526.30" width="2.8" height="11.80"/><rect x="548.36" y="526.30" width="2.8" height="10.60"/><rect x="552.08" y="526.30" width="2.8" height="8.45"/><rect x="555.79" y="526.30" width="2.8" height="6.45"/><rect x="559.51" y="526.30" width="2.8" height="6.45"/><rect x="563.23" y="526.30" width="2.8" height="6.45"/><rect x="566.94" y="526.30" width="2.8" height="5.60"/><rect x="570.66" y="526.30" width="2.8" height="6.80"/><rect x="574.37" y="526.30" width="2.8" height="6.80"/><rect x="578.09" y="526.30" width="2.8" height="8.10"/><rect x="581.81" y="526.30" width="2.8" height="9.10"/><rect x="585.52" y="520.20" width="2.8" height="6.10"/><rect x="589.24" y="506.20" width="2.8" height="20.10"/><rect x="592.95" y="496.90" width="2.8" height="29.40"/><rect x="596.67" y="491.10" width="2.8" height="35.20"/><rect x="600.39" y="486.00" width="2.8" height="40.30"/><rect x="604.10" y="480.10" width="2.8" height="46.20"/><rect x="607.82" y="483.00" width="2.8" height="43.30"/><rect x="611.53" y="483.00" width="2.8" height="43.30"/><rect x="615.25" y="481.20" width="2.8" height="45.10"/><rect x="618.97" y="479.20" width="2.8" height="47.10"/><rect x="622.68" y="477.10" width="2.8" height="49.20"/><rect x="626.40" y="476.00" width="2.8" height="50.30"/><rect x="630.11" y="474.40" width="2.8" height="51.90"/><rect x="633.83" y="472.75" width="2.8" height="53.55"/><rect x="637.55" y="471.00" width="2.8" height="55.30"/><rect x="641.26" y="465.10" width="2.8" height="61.20"/><rect x="644.98" y="465.10" width="2.8" height="61.20"/><rect x="648.69" y="466.20" width="2.8" height="60.10"/><rect x="652.41" y="468.00" width="2.8" height="58.30"/><rect x="656.13" y="472.75" width="2.8" height="53.55"/><rect x="659.84" y="476.40" width="2.8" height="49.90"/><rect x="663.56" y="483.00" width="2.8" height="43.30"/><rect x="667.27" y="491.10" width="2.8" height="35.20"/><rect x="670.99" y="497.90" width="2.8" height="28.40"/><rect x="674.71" y="504.20" width="2.8" height="22.10"/><rect x="678.42" y="508.80" width="2.8" height="17.50"/><rect x="682.14" y="513.70" width="2.8" height="12.60"/><rect x="685.85" y="517.00" width="2.8" height="9.30"/><rect x="689.57" y="521.70" width="2.8" height="4.60"/><rect x="693.29" y="525.50" width="2.8" height="0.80"/><rect x="697.00" y="526.30" width="2.8" height="2.30"/><rect x="700.72" y="526.30" width="2.8" height="5.55"/><rect x="704.43" y="526.30" width="2.8" height="9.95"/><rect x="708.15" y="526.30" width="2.8" height="13.10"/><rect x="711.87" y="526.30" width="2.8" height="12.20"/><rect x="715.58" y="526.30" width="2.8" height="11.20"/><rect x="719.30" y="526.30" width="2.8" height="9.95"/><rect x="723.01" y="526.30" width="2.8" height="6.20"/><rect x="726.73" y="526.30" width="2.8" height="4.30"/><rect x="730.45" y="526.30" width="2.8" height="3.45"/><rect x="734.16" y="526.30" width="2.8" height="1.20"/><rect x="737.88" y="525.00" width="2.8" height="1.30"/><rect x="741.59" y="518.10" width="2.8" height="8.20"/><rect x="745.31" y="512.75" width="2.8" height="13.55"/><rect x="749.03" y="504.00" width="2.8" height="22.30"/><rect x="752.74" y="496.90" width="2.8" height="29.40"/><rect x="756.46" y="494.10" width="2.8" height="32.20"/><rect x="760.17" y="493.10" width="2.8" height="33.20"/><rect x="763.89" y="490.25" width="2.8" height="36.05"/><rect x="767.61" y="488.50" width="2.8" height="37.80"/><rect x="771.32" y="488.50" width="2.8" height="37.80"/><rect x="775.04" y="486.00" width="2.8" height="40.30"/><rect x="778.75" y="483.10" width="2.8" height="43.20"/><rect x="782.47" y="482.25" width="2.8" height="44.05"/><rect x="786.19" y="483.10" width="2.8" height="43.20"/><rect x="789.90" y="486.00" width="2.8" height="40.30"/><rect x="793.62" y="487.50" width="2.8" height="38.80"/><rect x="797.33" y="490.25" width="2.8" height="36.05"/><rect x="801.05" y="491.25" width="2.8" height="35.05"/><rect x="804.77" y="495.00" width="2.8" height="31.30"/><rect x="808.48" y="498.90" width="2.8" height="27.40"/><rect x="812.20" y="500.60" width="2.8" height="25.70"/><rect x="815.91" y="501.50" width="2.8" height="24.80"/><rect x="819.63" y="503.10" width="2.8" height="23.20"/><rect x="823.35" y="508.10" width="2.8" height="18.20"/><rect x="827.06" y="511.90" width="2.8" height="14.40"/><rect x="830.78" y="513.50" width="2.8" height="12.80"/><rect x="834.49" y="515.25" width="2.8" height="11.05"/><rect x="838.21" y="517.25" width="2.8" height="9.05"/><rect x="841.93" y="519.10" width="2.8" height="7.20"/><rect x="845.64" y="522.25" width="2.8" height="4.05"/><rect x="849.36" y="522.25" width="2.8" height="4.05"/><rect x="853.07" y="521.00" width="2.8" height="5.30"/><rect x="856.79" y="521.00" width="2.8" height="5.30"/><rect x="860.51" y="522.25" width="2.8" height="4.05"/><rect x="864.22" y="522.25" width="2.8" height="4.05"/></g><g clip-path="url(#cd)"><path d="M3.51 536.90L6.30 537.88M9.09 538.85L10.94 539.50M10.94 539.50L11.88 539.83M14.67 540.80L17.46 541.78M17.46 541.78L17.46 541.78M20.25 542.96L22.09 543.80M22.09 543.80L23.04 544.34M25.83 545.91L28.62 547.64M28.62 547.64L28.62 547.64M31.41 549.42L33.24 550.61M33.24 550.61L34.20 551.26M36.99 553.18L39.78 555.20M42.57 557.33L44.39 558.75M44.39 558.75L45.36 559.47M48.15 561.55L50.94 563.74M50.94 563.74L50.94 563.74M53.73 565.65L55.53 566.81M55.53 566.81L56.52 567.38M56.52 567.38L56.52 567.38M59.31 568.97L62.10 570.14M64.89 571.32L66.68 572.08M66.68 572.08L67.68 572.41M70.47 573.32L73.26 574.02M73.26 574.02L73.26 574.02M76.05 574.49L77.83 574.73M77.83 574.73L78.84 574.79M78.84 574.79L78.84 574.79M81.63 574.93L84.42 574.65M84.42 574.65L84.42 574.65M87.21 574.23L88.98 573.93M88.98 573.93L90.00 573.66M90.00 573.66L90.00 573.66M92.79 572.90L95.58 571.85M98.37 570.52L100.13 569.61M100.13 569.61L101.16 568.95M103.95 567.16L106.74 565.21M109.53 563.21L111.27 561.94M111.27 561.94L112.32 561.11M115.11 558.87L117.90 556.33M117.90 556.33L117.90 556.33M120.69 553.70L122.42 552.04M122.42 552.04L123.48 551.16M123.48 551.16L123.48 551.16M126.27 548.90L129.06 547.65M129.06 547.65L129.06 547.65M131.85 547.29L133.57 547.29M133.57 547.29L134.64 547.53M134.64 547.53L134.64 547.53M137.43 548.17L140.22 549.10M143.01 550.22L144.72 550.95M144.72 550.95L145.80 551.62M145.80 551.62L145.80 551.62M148.59 553.37L151.38 555.61M154.17 557.89L155.87 559.28M155.87 559.28L156.96 560.14M156.96 560.14L156.96 560.14M159.75 562.28L162.54 563.63M162.54 563.63L162.54 563.63M165.33 564.42L167.01 564.76M167.01 564.76L168.12 564.95M170.91 565.43L173.70 565.96M173.70 565.96L173.70 565.96M176.49 566.58L178.16 566.98M178.16 566.98L179.28 567.22M182.07 567.81L184.86 568.34M184.86 568.34L184.86 568.34M187.65 568.91L189.31 569.26M189.31 569.26L190.44 569.39M193.23 569.68L196.02 569.74M196.02 569.74L196.02 569.74M198.81 569.29L200.46 568.92M200.46 568.92L201.60 568.40M204.39 567.09L207.18 565.06M209.97 562.49L211.61 560.87M211.61 560.87L212.58 559.72M212.58 559.72L212.58 559.72M214.95 556.93L215.32 556.48M215.32 556.48L217.08 554.14M219.17 551.35L221.13 548.56M221.13 548.56L221.13 548.56M223.08 545.77L225.00 542.98M226.95 540.19L229.02 537.40M229.02 537.40L229.02 537.40M231.28 534.61L233.77 531.82M236.54 529.20L237.62 528.19M237.62 528.19L239.33 527.05M239.33 527.05L239.33 527.05M242.12 525.37L244.91 524.16M244.91 524.16L244.91 524.16M247.70 523.30L248.77 522.98M248.77 522.98L250.49 522.61M253.28 522.10L256.07 521.81M258.86 521.85L259.91 521.87M259.91 521.87L261.65 521.81M264.44 521.66L267.23 521.39M267.23 521.39L267.23 521.39M270.02 520.88L271.06 520.69M271.06 520.69L272.81 520.39M272.81 520.39L272.81 520.39M275.60 519.90L278.39 519.41M281.18 518.71L282.21 518.44M282.21 518.44L283.97 518.10M286.76 517.50L289.55 516.74M289.55 516.74L289.55 516.74M292.34 515.83L293.36 515.50M293.36 515.50L295.13 514.92M297.92 514.05L300.71 513.29M303.50 512.84L304.51 512.68M304.51 512.68L306.29 512.67M306.29 512.67L306.29 512.67M309.08 512.75L311.87 513.06M311.87 513.06L311.87 513.06M314.66 513.78L315.65 514.04M315.65 514.04L317.45 514.65M320.24 515.66L323.03 516.84M325.82 518.41L326.80 518.97M326.80 518.97L328.61 520.26M328.61 520.26L328.61 520.26M331.40 522.26L334.19 524.30M336.98 526.18L337.95 526.83M337.95 526.83L339.77 527.65M342.56 528.75L345.35 529.53M345.35 529.53L345.35 529.53M348.14 530.08L349.10 530.26M349.10 530.26L350.93 530.37M350.93 530.37L350.93 530.37M353.72 530.43L356.51 530.26M359.30 529.69L360.25 529.49M360.25 529.49L362.09 528.86M364.88 527.97L367.67 527.21M367.67 527.21L367.67 527.21M370.46 526.45L371.39 526.19M371.39 526.19L373.25 525.76M373.25 525.76L373.25 525.76M376.04 525.15L378.83 524.63M378.83 524.63L378.83 524.63M381.62 524.27L382.54 524.15M382.54 524.15L384.41 524.00M384.41 524.00L384.41 524.00M387.20 523.86L389.97 523.86M389.97 523.86L389.99 523.86M389.99 523.86L389.99 523.86M392.78 523.79L393.69 523.77M393.69 523.77L395.57 523.59M398.36 523.17L401.12 522.44M401.12 522.44L401.15 522.43M403.94 521.54L404.84 521.26M404.84 521.26L406.73 520.71M406.73 520.71L406.73 520.71M409.52 520.01L412.27 519.53M412.27 519.53L412.31 519.53M412.31 519.53L412.31 519.53M415.10 519.35L415.99 519.29M415.99 519.29L417.89 519.29M420.68 519.38L423.42 519.62M423.42 519.62L423.47 519.63M423.47 519.63L423.47 519.63M426.26 520.15L427.13 520.32M427.13 520.32L429.05 520.94M429.05 520.94L429.05 520.94M431.84 521.92L434.57 523.02M434.57 523.02L434.63 523.05M437.42 524.38L438.28 524.79M438.28 524.79L440.21 525.66M443.00 526.77L445.71 527.60M445.71 527.60L445.79 527.61M445.79 527.61L445.79 527.61M448.58 528.05L449.43 528.18M449.43 528.18L451.37 528.11M451.37 528.11L451.37 528.11M454.16 528.00L456.86 527.88M456.86 527.88L456.95 527.89M459.74 528.12L460.58 528.19M460.58 528.19L462.53 528.61M465.32 529.33L468.01 530.22M468.01 530.22L468.11 530.25M468.11 530.25L468.11 530.25M470.90 531.19L471.73 531.47M471.73 531.47L473.69 532.01M476.48 532.87L479.16 533.86M479.16 533.86L479.27 533.91M482.06 535.14L482.87 535.49M482.87 535.49L484.85 536.82M484.85 536.82L484.85 536.82M487.64 538.62L490.31 540.22M490.31 540.22L490.43 540.28M490.43 540.28L490.43 540.28M493.22 541.63L494.02 542.02M494.02 542.02L496.01 542.69M498.80 543.51L501.45 544.11M501.45 544.11L501.59 544.12M504.38 544.51L505.17 544.62M505.17 544.62L507.17 544.98M507.17 544.98L507.17 544.98M509.96 545.33L512.60 545.45M512.60 545.45L512.75 545.45M512.75 545.45L512.75 545.45M515.54 545.42L516.32 545.41M516.32 545.41L518.33 545.11M521.12 544.67L523.75 544.23M523.75 544.23L523.91 544.19M526.70 543.52L527.47 543.33M527.47 543.33L529.49 542.84M529.49 542.84L529.49 542.84M532.28 542.15L534.90 541.46M534.90 541.46L535.07 541.42M537.86 540.83L538.61 540.67M538.61 540.67L540.65 540.33M540.65 540.33L540.65 540.33M543.44 539.90L546.05 539.56M546.05 539.56L546.23 539.53M546.23 539.53L546.23 539.53M549.02 539.12L549.76 539.01M549.76 539.01L551.81 538.65M554.60 538.11L557.19 537.55M557.19 537.55L557.39 537.51M557.39 537.51L557.39 537.51M560.18 536.96L560.91 536.81M560.91 536.81L562.97 536.40M562.97 536.40L562.97 536.40M565.76 535.84L568.34 535.31M568.34 535.31L568.55 535.28M571.34 534.83L572.06 534.71M572.06 534.71L574.13 534.32M574.13 534.32L574.13 534.32M576.92 533.88L579.49 533.60M579.49 533.60L579.71 533.59M582.50 533.46L583.21 533.43M583.21 533.43L585.29 532.53M588.08 530.90L590.64 528.87M590.64 528.87L590.85 528.63M590.85 528.63L590.85 528.63M593.46 525.84L594.35 524.88M594.35 524.88L595.82 523.05M598.06 520.26L598.07 520.26M598.07 520.26L600.10 517.47M602.08 514.68L603.84 511.89M603.84 511.89L603.84 511.89M605.61 509.10L607.47 506.31M609.33 503.52L611.15 500.73M611.15 500.73L611.15 500.73M612.96 497.94L614.68 495.15M614.68 495.15L614.68 495.15M616.40 492.36L616.65 491.97M616.65 491.97L618.60 489.57M620.99 486.87L623.78 484.44M623.78 484.44L623.78 484.44M626.57 482.62L627.80 481.86M627.80 481.86L629.36 481.07M632.15 479.75L634.94 478.64M637.73 477.85L638.95 477.52M638.95 477.52L640.52 476.67M640.52 476.67L640.52 476.67M643.31 475.18L646.10 473.69M648.89 472.41L650.09 471.87M650.09 471.87L651.68 471.34M654.47 470.54L657.26 470.18M657.26 470.18L657.26 470.18M660.05 470.17L661.24 470.19M661.24 470.19L662.84 470.60M665.63 471.51L668.42 473.05M668.42 473.05L668.42 473.05M671.21 475.23L672.39 476.17M672.39 476.17L673.77 477.79M673.77 477.79L673.77 477.79M676.15 480.58L678.29 483.37M680.37 486.16L682.34 488.95M682.34 488.95L682.34 488.95M684.28 491.74L686.18 494.53M686.18 494.53L686.18 494.53M688.09 497.32L689.99 500.11M691.90 502.90L693.80 505.69M693.80 505.69L693.80 505.69M695.78 508.48L697.82 511.27M700.04 514.06L702.12 516.58M702.12 516.58L702.35 516.85M704.78 519.64L705.83 520.84M705.83 520.84L707.34 522.43M707.34 522.43L707.34 522.43M710.01 525.16L712.80 527.64M715.59 529.71L716.98 530.70M716.98 530.70L718.38 531.50M721.17 532.99L723.96 533.89M723.96 533.89L723.96 533.89M726.75 534.40L728.13 534.61M728.13 534.61L729.54 534.65M732.33 534.67L735.12 534.31M735.12 534.31L735.12 534.31M737.91 533.46L739.28 533.00M739.28 533.00L740.70 532.09M740.70 532.09L740.70 532.09M743.49 530.25L746.28 528.10M749.07 525.41L750.43 524.05M750.43 524.05L751.64 522.62M751.64 522.62L751.64 522.62M754.01 519.83L754.14 519.68M754.14 519.68L756.44 517.04M756.44 517.04L756.44 517.04M758.89 514.25L761.38 511.46M763.75 508.67L765.29 506.86M765.29 506.86L766.12 505.88M766.12 505.88L766.12 505.88M768.52 503.09L769.01 502.52M769.01 502.52L771.04 500.30M773.68 497.55L776.44 494.90M776.44 494.90L776.47 494.88M779.26 492.40L780.15 491.61M780.15 491.61L782.05 490.38M782.05 490.38L782.05 490.38M784.84 488.79L787.59 487.66M787.59 487.66L787.63 487.65M790.42 486.97L791.30 486.76M791.30 486.76L793.21 486.44M793.21 486.44L793.21 486.44M796.00 486.13L798.73 486.13M798.73 486.13L798.79 486.14M798.79 486.14L798.79 486.14M801.58 486.37L802.45 486.44M802.45 486.44L804.37 486.81M807.16 487.54L809.88 488.59M809.88 488.59L809.95 488.63M809.95 488.63L809.95 488.63M812.74 490.09L813.60 490.54M813.60 490.54L815.53 491.65M815.53 491.65L815.53 491.65M818.32 493.28L821.03 494.90M821.03 494.90L821.11 494.95M823.90 496.79L824.75 497.36M824.75 497.36L826.69 498.77M826.69 498.77L826.69 498.77M829.48 500.77L832.18 502.65M832.18 502.65L832.27 502.71M835.06 504.72L835.89 505.32M835.89 505.32L837.85 506.62M840.64 508.41L843.33 510.03M843.33 510.03L843.43 510.10M843.43 510.10L843.43 510.10M846.22 511.90L847.04 512.44M847.04 512.44L849.01 513.66M851.80 515.30L854.47 516.73M854.47 516.73L854.59 516.78M857.38 517.85L858.19 518.17M858.19 518.17L860.17 518.78M860.17 518.78L860.17 518.78M862.96 519.59L865.62 520.29" fill="none" stroke="#FF0000" stroke-width="1.15" stroke-linecap="butt"/></g><g fill="none" stroke="#000" stroke-width="1"><rect x="2.5" y="2.5" width="961" height="454"/><rect x="2.5" y="458.5" width="961" height="125"/></g><line x1="963.5" y1="12.50" x2="966" y2="12.50" stroke="#000" stroke-width="1"/><text x="968.04" y="15.00" textLength="26.78" lengthAdjust="spacingAndGlyphs">0.9385</text><line x1="963.5" y1="45.50" x2="966" y2="45.50" stroke="#000" stroke-width="1"/><text x="968.04" y="49.00" textLength="26.78" lengthAdjust="spacingAndGlyphs">0.9365</text><line x1="963.5" y1="79.50" x2="966" y2="79.50" stroke="#000" stroke-width="1"/><text x="968.04" y="82.00" textLength="26.78" lengthAdjust="spacingAndGlyphs">0.9345</text><line x1="963.5" y1="112.50" x2="966" y2="112.50" stroke="#000" stroke-width="1"/><text x="968.04" y="116.00" textLength="26.78" lengthAdjust="spacingAndGlyphs">0.9325</text><line x1="963.5" y1="146.50" x2="966" y2="146.50" stroke="#000" stroke-width="1"/><text x="968.04" y="149.00" textLength="26.78" lengthAdjust="spacingAndGlyphs">0.9305</text><line x1="963.5" y1="179.50" x2="966" y2="179.50" stroke="#000" stroke-width="1"/><text x="968.04" y="182.00" textLength="26.78" lengthAdjust="spacingAndGlyphs">0.9285</text><line x1="963.5" y1="212.50" x2="966" y2="212.50" stroke="#000" stroke-width="1"/><text x="968.04" y="216.00" textLength="26.78" lengthAdjust="spacingAndGlyphs">0.9265</text><line x1="963.5" y1="246.50" x2="966" y2="246.50" stroke="#000" stroke-width="1"/><text x="968.04" y="249.00" textLength="26.78" lengthAdjust="spacingAndGlyphs">0.9245</text><line x1="963.5" y1="279.50" x2="966" y2="279.50" stroke="#000" stroke-width="1"/><text x="968.04" y="283.00" textLength="26.78" lengthAdjust="spacingAndGlyphs">0.9225</text><line x1="963.5" y1="313.50" x2="966" y2="313.50" stroke="#000" stroke-width="1"/><text x="968.04" y="316.00" textLength="26.78" lengthAdjust="spacingAndGlyphs">0.9205</text><line x1="963.5" y1="346.50" x2="966" y2="346.50" stroke="#000" stroke-width="1"/><text x="968.04" y="350.00" textLength="26.78" lengthAdjust="spacingAndGlyphs">0.9185</text><line x1="963.5" y1="380.50" x2="966" y2="380.50" stroke="#000" stroke-width="1"/><text x="968.04" y="383.00" textLength="26.78" lengthAdjust="spacingAndGlyphs">0.9165</text><line x1="963.5" y1="413.50" x2="966" y2="413.50" stroke="#000" stroke-width="1"/><text x="968.04" y="417.00" textLength="26.78" lengthAdjust="spacingAndGlyphs">0.9145</text><line x1="963.5" y1="446.50" x2="966" y2="446.50" stroke="#000" stroke-width="1"/><text x="968.04" y="450.00" textLength="26.78" lengthAdjust="spacingAndGlyphs">0.9125</text><line x1="963.5" y1="460.50" x2="966" y2="460.50" stroke="#000" stroke-width="1"/><text x="966.14" y="468.00" textLength="26.66" lengthAdjust="spacingAndGlyphs">0.0032</text><line x1="963.5" y1="527.50" x2="966" y2="527.50" stroke="#000" stroke-width="1"/><text x="966.03" y="530.00" textLength="17.60" lengthAdjust="spacingAndGlyphs">0.00</text><line x1="963.5" y1="582.50" x2="966" y2="582.50" stroke="#000" stroke-width="1"/><text x="966.36" y="581.00" textLength="33.43" lengthAdjust="spacingAndGlyphs">-0.00271</text><rect x="965" y="20.50" width="33" height="10.4" fill="#FF0000"/><text x="968.04" y="29.00" textLength="26.57" lengthAdjust="spacingAndGlyphs" style="fill:#fff;stroke:#fff">0.9376</text><rect x="965" y="71.40" width="33" height="10.4" fill="#FF0000"/><text x="968.04" y="80.00" textLength="26.57" lengthAdjust="spacingAndGlyphs" style="fill:#fff;stroke:#fff">0.9346</text><rect x="965" y="92.70" width="33" height="10.4" fill="#000"/><text x="968.04" y="101.00" textLength="26.57" lengthAdjust="spacingAndGlyphs" style="fill:#fff;stroke:#fff">0.9333</text><rect x="965" y="130.90" width="33" height="10.4" fill="#FF0000"/><text x="968.04" y="139.00" textLength="26.57" lengthAdjust="spacingAndGlyphs" style="fill:#fff;stroke:#fff">0.9310</text><rect x="965" y="227.30" width="33" height="10.4" fill="#FF0000"/><text x="968.04" y="236.00" textLength="26.57" lengthAdjust="spacingAndGlyphs" style="fill:#fff;stroke:#fff">0.9253</text><rect x="965" y="247.70" width="33" height="10.4" fill="#FF0000"/><text x="968.04" y="256.00" textLength="26.66" lengthAdjust="spacingAndGlyphs" style="fill:#fff;stroke:#fff">0.9241</text><rect x="965" y="351.00" width="33" height="10.4" fill="#FF0000"/><text x="968.04" y="360.00" textLength="26.66" lengthAdjust="spacingAndGlyphs" style="fill:#fff;stroke:#fff">0.9179</text><line x1="3.50" y1="583" x2="3.50" y2="586.5" stroke="#000" stroke-width="1"/><text x="2.10" y="595.00" textLength="46.71" lengthAdjust="spacingAndGlyphs">11 Jun 2013</text><line x1="62.50" y1="583" x2="62.50" y2="586.5" stroke="#000" stroke-width="1"/><text x="61.09" y="595.00" textLength="49.72" lengthAdjust="spacingAndGlyphs">11 Jun 22:00</text><line x1="122.50" y1="583" x2="122.50" y2="586.5" stroke="#000" stroke-width="1"/><text x="121.10" y="595.00" textLength="49.71" lengthAdjust="spacingAndGlyphs">12 Jun 14:00</text><line x1="181.50" y1="583" x2="181.50" y2="586.5" stroke="#000" stroke-width="1"/><text x="180.10" y="595.00" textLength="49.71" lengthAdjust="spacingAndGlyphs">13 Jun 06:00</text><line x1="241.50" y1="583" x2="241.50" y2="586.5" stroke="#000" stroke-width="1"/><text x="240.10" y="595.00" textLength="49.71" lengthAdjust="spacingAndGlyphs">13 Jun 22:00</text><line x1="300.50" y1="583" x2="300.50" y2="586.5" stroke="#000" stroke-width="1"/><text x="299.10" y="595.00" textLength="49.71" lengthAdjust="spacingAndGlyphs">14 Jun 14:00</text><line x1="360.50" y1="583" x2="360.50" y2="586.5" stroke="#000" stroke-width="1"/><text x="359.10" y="595.00" textLength="49.71" lengthAdjust="spacingAndGlyphs">17 Jun 07:00</text><line x1="419.50" y1="583" x2="419.50" y2="586.5" stroke="#000" stroke-width="1"/><text x="418.10" y="595.00" textLength="49.71" lengthAdjust="spacingAndGlyphs">17 Jun 23:00</text><line x1="479.50" y1="583" x2="479.50" y2="586.5" stroke="#000" stroke-width="1"/><text x="478.10" y="595.00" textLength="49.71" lengthAdjust="spacingAndGlyphs">18 Jun 15:00</text><line x1="538.50" y1="583" x2="538.50" y2="586.5" stroke="#000" stroke-width="1"/><text x="537.10" y="595.00" textLength="49.71" lengthAdjust="spacingAndGlyphs">19 Jun 07:00</text><line x1="598.50" y1="583" x2="598.50" y2="586.5" stroke="#000" stroke-width="1"/><text x="597.10" y="595.00" textLength="49.71" lengthAdjust="spacingAndGlyphs">19 Jun 23:00</text><line x1="657.50" y1="583" x2="657.50" y2="586.5" stroke="#000" stroke-width="1"/><text x="656.27" y="595.00" textLength="49.54" lengthAdjust="spacingAndGlyphs">20 Jun 15:00</text><line x1="716.50" y1="583" x2="716.50" y2="586.5" stroke="#000" stroke-width="1"/><text x="715.27" y="595.00" textLength="49.54" lengthAdjust="spacingAndGlyphs">21 Jun 07:00</text><line x1="776.50" y1="583" x2="776.50" y2="586.5" stroke="#000" stroke-width="1"/><text x="775.27" y="595.00" textLength="49.54" lengthAdjust="spacingAndGlyphs">24 Jun 06:00</text><line x1="835.50" y1="583" x2="835.50" y2="586.5" stroke="#000" stroke-width="1"/><text x="834.27" y="595.00" textLength="49.54" lengthAdjust="spacingAndGlyphs">24 Jun 22:00</text><rect x="15" y="4.5" width="173" height="10" fill="#FFFAFA"/><polygon points="5.5,8.2 12,8.2 8.75,12" fill="#000"/><text x="16.88" y="13.00" textLength="50.04" lengthAdjust="spacingAndGlyphs">USDCHF,H1</text><text x="73.14" y="13.00" textLength="26.36" lengthAdjust="spacingAndGlyphs">0.9329</text><text x="102.14" y="13.00" textLength="26.27" lengthAdjust="spacingAndGlyphs">0.9335</text><text x="130.94" y="13.00" textLength="26.27" lengthAdjust="spacingAndGlyphs">0.9328</text><text x="159.74" y="13.00" textLength="26.27" lengthAdjust="spacingAndGlyphs">0.9333</text><text x="5.98" y="470.00" textLength="62.50" lengthAdjust="spacingAndGlyphs">MACD(12,26,9)</text><text x="71.15" y="470.00" textLength="29.64" lengthAdjust="spacingAndGlyphs">0.00020</text><text x="104.04" y="470.00" textLength="30.85" lengthAdjust="spacingAndGlyphs">0.00029</text></svg></body></html>
